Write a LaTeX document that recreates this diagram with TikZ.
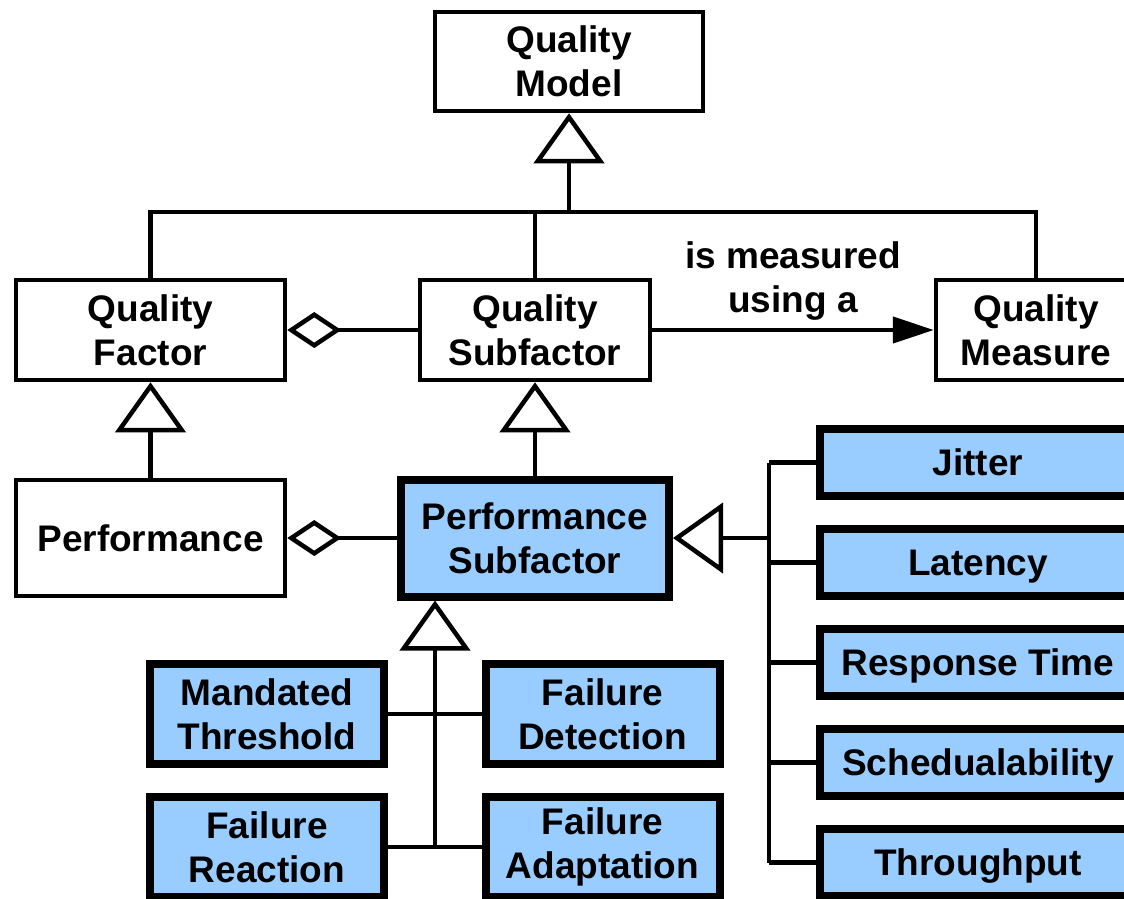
\documentclass[tikz,border=0pt]{standalone}
\usepackage{fontspec}
\setmainfont{Liberation Sans}
\usepackage{tikz}
\usetikzlibrary{arrows.meta}
\definecolor{subblue}{HTML}{99CCFF}
\newcommand{\boxfont}{\fontsize{37}{44}\selectfont\bfseries}

\begin{document}
\begin{tikzpicture}[x=1pt,y=-1pt,line width=4.5pt,
    box/.style={draw,fill=white,align=center,inner sep=0pt,font=\boxfont},
    subbox/.style={box,fill=subblue,line width=8pt},
    gen/.style={-{Triangle[open,length=50pt,width=70pt]}},
    agg/.style={-{Diamond[open,length=54pt,width=36pt]}},
    uses/.style={-{Triangle[length=41pt,width=26pt]}}]

\useasboundingbox (0,0) rectangle (1124,898);

% upper classes
\node[box,minimum width=268pt,minimum height=99pt] (qm) at (569,61.5) {Quality\\Model};
\node[box,minimum width=269pt,minimum height=100pt] (qf) at (150.5,330) {Quality\\Factor};
\node[box,minimum width=230pt,minimum height=100pt] (qs) at (535,330) {Quality\\Subfactor};
\node[box,minimum width=200pt,minimum height=100pt] (qmeas) at (1036,330) {Quality\\Measure};
\node[box,minimum width=269pt,minimum height=116pt] (perf) at (150.5,538) {Performance};
\node[subbox,minimum width=268pt,minimum height=117pt] (ps) at (535,538) {Performance\\Subfactor};

% lower subfactors
\node[subbox,minimum width=234pt,minimum height=100pt] (mt) at (267,714) {Mandated\\Threshold};
\node[subbox,minimum width=234pt,minimum height=100pt] (fd) at (602.5,714) {Failure\\Detection};
\node[subbox,minimum width=234pt,minimum height=100pt] (fr) at (267,847) {Failure\\Reaction};
\node[subbox,minimum width=234pt,minimum height=100pt] (fa) at (602.5,847) {Failure\\Adaptation};

\foreach \n/\t [count=\i] in {jit/Jitter,lat/Latency,rt/Response Time,sch/Schedualability,thr/Throughput}
    \node[subbox,minimum width=316pt,minimum height=67pt,text height=26.5pt,text depth=0pt] (\n) at (978,362.5+100*\i) {\t};

% generalisation to the quality model
\coordinate (top) at (569,212);
\draw[gen] (top) -- (qm);
\draw (qf.north) |- (top) -| (qmeas.north);
\draw (qs.north) -- (qs.north |- top);

\draw[gen] (perf) -- (qf);
\draw[gen] (ps.north -| qs.south) -- (qs.south);
\draw[agg] (qs) -- (qf);
\draw[agg] (ps) -- (perf);
\draw[uses] (qs) -- (qmeas) node[midway,above=4pt,font=\boxfont,align=center] {is measured\\using a};

% right bus
\coordinate (rb) at (769,538);
\draw[gen] (rb) -- (ps.east);
\draw (rb |- jit.west) -- (rb |- thr.west);
\foreach \n in {jit,lat,rt,sch,thr}
    \draw (rb |- \n.west) -- (\n.west);

% lower bus
\coordinate (bb) at (435,848);
\draw[gen] (bb) -- (bb |- ps.south);
\draw (mt.east) -- (fd.west);
\draw (fr.east) -- (fa.west);

\end{tikzpicture}
\end{document}
